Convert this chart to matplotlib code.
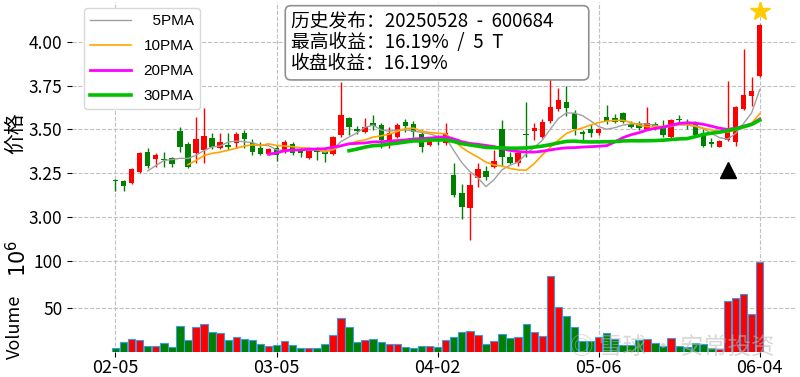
import numpy as np
import pandas as pd
import matplotlib
matplotlib.use('Agg')
import matplotlib.pyplot as plt

plt.rcParams['font.family'] = ['Noto Sans CJK SC', 'DejaVu Sans']
plt.rcParams['axes.unicode_minus'] = False

# 交易日 (2025-02-05 ~ 2025-06-04, 去掉节假日)
holidays = ['2025-04-04', '2025-05-01', '2025-05-02', '2025-05-05', '2025-06-02']
dates = pd.bdate_range('2025-02-05', '2025-06-04')
dates = dates[~dates.isin(pd.to_datetime(holidays))]

opens = [3.210, 3.205, 3.192, 3.258, 3.369, 3.329, 3.330, 3.334, 3.491, 3.415,
         3.365, 3.382, 3.453, 3.392, 3.411, 3.420, 3.481, 3.424, 3.392, 3.359,
         3.392, 3.372, 3.416, 3.382, 3.335, 3.386, 3.372, 3.359, 3.468, 3.563,
         3.500, 3.487, 3.535, 3.525, 3.439, 3.458, 3.544, 3.531, 3.474, 3.411,
         3.460, 3.420, 3.239, 3.134, 3.049, 3.220, 3.262, 3.287, 3.500, 3.344,
         3.306, 3.475, 3.493, 3.458, 3.548, 3.615, 3.657, 3.592, 3.487, 3.500,
         3.481, 3.572, 3.563, 3.596, 3.531, 3.530, 3.500, 3.531, 3.511, 3.458,
         3.560, 3.540, 3.530, 3.480, 3.425, 3.400, 3.439, 3.430, 3.615, 3.693,
         3.805]
highs = [3.215, 3.210, 3.280, 3.372, 3.392, 3.363, 3.370, 3.343, 3.516, 3.430,
         3.571, 3.622, 3.478, 3.479, 3.479, 3.487, 3.497, 3.443, 3.430, 3.392,
         3.411, 3.440, 3.430, 3.400, 3.390, 3.400, 3.392, 3.460, 3.773, 3.573,
         3.519, 3.563, 3.582, 3.535, 3.515, 3.535, 3.558, 3.550, 3.496, 3.455,
         3.470, 3.535, 3.306, 3.190, 3.250, 3.306, 3.290, 3.380, 3.554, 3.370,
         3.382, 3.658, 3.535, 3.560, 3.907, 3.735, 3.748, 3.610, 3.497, 3.530,
         3.510, 3.640, 3.590, 3.600, 3.550, 3.550, 3.626, 3.540, 3.554, 3.560,
         3.580, 3.560, 3.550, 3.500, 3.450, 3.440, 3.777, 3.634, 3.958, 3.800,
         4.100]
lows = [3.150, 3.150, 3.190, 3.253, 3.277, 3.287, 3.287, 3.283, 3.372, 3.281,
        3.308, 3.308, 3.386, 3.388, 3.382, 3.392, 3.392, 3.354, 3.354, 3.354,
        3.320, 3.365, 3.354, 3.340, 3.330, 3.325, 3.315, 3.354, 3.458, 3.468,
        3.473, 3.480, 3.497, 3.392, 3.392, 3.449, 3.487, 3.458, 3.373, 3.405,
        3.410, 3.410, 3.115, 2.985, 2.867, 3.172, 3.210, 3.280, 3.290, 3.300,
        3.289, 3.344, 3.440, 3.450, 3.535, 3.605, 3.578, 3.470, 3.440, 3.458,
        3.470, 3.530, 3.535, 3.535, 3.505, 3.497, 3.497, 3.497, 3.458, 3.450,
        3.530, 3.500, 3.455, 3.400, 3.400, 3.400, 3.435, 3.407, 3.610, 3.634,
        3.800]
closes = [3.205, 3.176, 3.275, 3.363, 3.292, 3.354, 3.325, 3.300, 3.401, 3.287,
          3.445, 3.462, 3.401, 3.430, 3.398, 3.474, 3.443, 3.372, 3.359, 3.386,
          3.354, 3.430, 3.363, 3.367, 3.382, 3.371, 3.359, 3.455, 3.582, 3.512,
          3.493, 3.515, 3.519, 3.440, 3.481, 3.525, 3.519, 3.487, 3.401, 3.439,
          3.451, 3.481, 3.124, 3.054, 3.182, 3.272, 3.230, 3.321, 3.340, 3.310,
          3.363, 3.465, 3.506, 3.544, 3.630, 3.668, 3.621, 3.500, 3.472, 3.481,
          3.502, 3.548, 3.544, 3.544, 3.516, 3.510, 3.538, 3.512, 3.468, 3.554,
          3.555, 3.535, 3.468, 3.407, 3.418, 3.435, 3.491, 3.630, 3.697, 3.721,
          4.097]
# 成交量 (单位 1e6)
volumes = [6.5, 12.9, 16.8, 15.1, 9.0, 9.0, 11.9, 8.3, 30.7, 15.1,
           29.0, 32.5, 24.3, 22.6, 15.1, 18.6, 16.2, 15.1, 11.1, 9.0,
           10.1, 14.0, 10.1, 7.2, 7.2, 7.2, 11.1, 20.4, 39.3, 29.0,
           12.9, 15.1, 16.8, 12.9, 10.8, 10.8, 8.3, 7.2, 9.3, 9.3,
           7.6, 15.1, 18.6, 23.6, 24.7, 20.4, 11.1, 14.0, 21.5, 17.6,
           18.6, 32.9, 24.3, 19.4, 83.6, 50.4, 41.1, 29.7, 14.3, 14.3,
           18.3, 23.2, 16.2, 10.0, 10.0, 15.4, 16.2, 11.9, 9.0, 17.6,
           9.3, 7.6, 11.9, 10.8, 6.5, 6.2, 57.2, 60.0, 64.3, 42.9,
           99.3]

xtick_labels = ['02-05', '03-05', '04-02', '05-06', '06-04']
mav_periods = [5, 10, 20, 30]
mav_colors = ['#a0a0a0', '#ffa500', '#ff00ff', '#00c000']
mav_widths = [1.0, 1.2, 2.0, 2.6]

release_date = '05-28'
info_text = ('历史发布：20250528  -  600684       \n'
             '最高收益：16.19%  /  5  T\n'
             '收盘收益：16.19%')

df = pd.DataFrame({'open': opens, 'high': highs, 'low': lows,
                   'close': closes, 'volume': volumes}, index=dates)
x = np.arange(len(df))
labels = list(df.index.strftime('%m-%d'))
tick_pos = [labels.index(t) for t in xtick_labels]

up = df['close'] >= df['open']
colors = np.where(up, '#ff0000', '#008000')

fig = plt.figure(figsize=(8, 3.77), dpi=100)
ax = fig.add_axes([0.09, 0.337, 0.906, 0.658])
axv = fig.add_axes([0.09, 0.066, 0.906, 0.268], sharex=ax)

# K线
ax.vlines(x, df['low'], df['high'], colors=colors, linewidth=1.0, zorder=3)
body = (df['close'] - df['open']).abs().clip(lower=0.004)
ax.bar(x, body, bottom=df[['open', 'close']].min(axis=1), width=0.68,
       color=colors, zorder=4)

# 均线
for p, c, w in zip(mav_periods, mav_colors, mav_widths):
    ma = df['close'].rolling(p).mean()
    lab = f'{p}PMA' if p >= 10 else f'  {p}PMA'
    ax.plot(x, ma.values, color=c, linewidth=w, label=lab, zorder=5)

# 发布日标记 / 最高点
ri = labels.index(release_date)
ax.plot(ri, df['low'].iloc[ri] - 0.17, marker='^', color='black',
        markersize=11, linestyle='none', zorder=6)
ax.plot(x[-1], df['high'].iloc[-1] + 0.075, marker='*', color='#ffcc00',
        markersize=15, linestyle='none', zorder=6)

ax.set_ylim(2.81, 4.229)
ax.set_xlim(-5.4, 84.6)
ax.set_yticks([3.00, 3.25, 3.50, 3.75, 4.00])
ax.set_yticklabels([f'{v:.2f}' for v in [3.00, 3.25, 3.50, 3.75, 4.00]])
ax.set_ylabel('价格', fontsize=15)
ax.yaxis.set_label_coords(-0.064, 0.47)
ax.tick_params(axis='y', labelsize=12.5)
ax.tick_params(axis='x', length=0, labelbottom=False)

leg = ax.legend(loc='upper left', bbox_to_anchor=(0.0166, 0.976),
                borderaxespad=0, handlelength=2.7, labelspacing=0.72,
                prop={'family': 'Liberation Sans', 'size': 11},
                framealpha=1, edgecolor='#d8d8d8', fancybox=True)

ax.text(0.302, 0.962, info_text, transform=ax.transAxes, fontsize=13.5,
        va='top', ha='left', linespacing=1.0,
        bbox=dict(boxstyle='round,pad=0.3', facecolor='white',
                  edgecolor='#909090', linewidth=1.2), zorder=7)

# 成交量
axv.bar(x, df['volume'], width=0.92, color=colors,
        edgecolor='#3c9be6', linewidth=0.8, zorder=3)
axv.set_ylim(2.6, 110.7)
axv.set_yticks([50, 100])
axv.tick_params(axis='y', labelsize=12.5)
axv.set_xticks(tick_pos)
axv.set_xticklabels(xtick_labels, fontsize=13)
axv.tick_params(axis='x', pad=1.5)
axv.set_ylabel('Volume', fontsize=13)
axv.yaxis.set_label_coords(-0.066, 0.25)
fig.text(0.0225, 0.315, r'$10^6$', rotation=90, fontsize=15,
         ha='center', va='center', family='DejaVu Sans')

for a in (ax, axv):
    a.set_xticks(tick_pos)
    a.grid(True, linestyle='--', color='#c0c0c0', linewidth=0.8, zorder=0)
    a.set_axisbelow(True)
    for s in a.spines.values():
        s.set_visible(False)

# 水印
fig.text(0.84, 0.075, '◎ 雪球 · 安常投资', fontsize=17, color='#b8b8b8',
         alpha=0.55, ha='center', va='center', zorder=10)

fig.savefig('out.png', dpi=100)
